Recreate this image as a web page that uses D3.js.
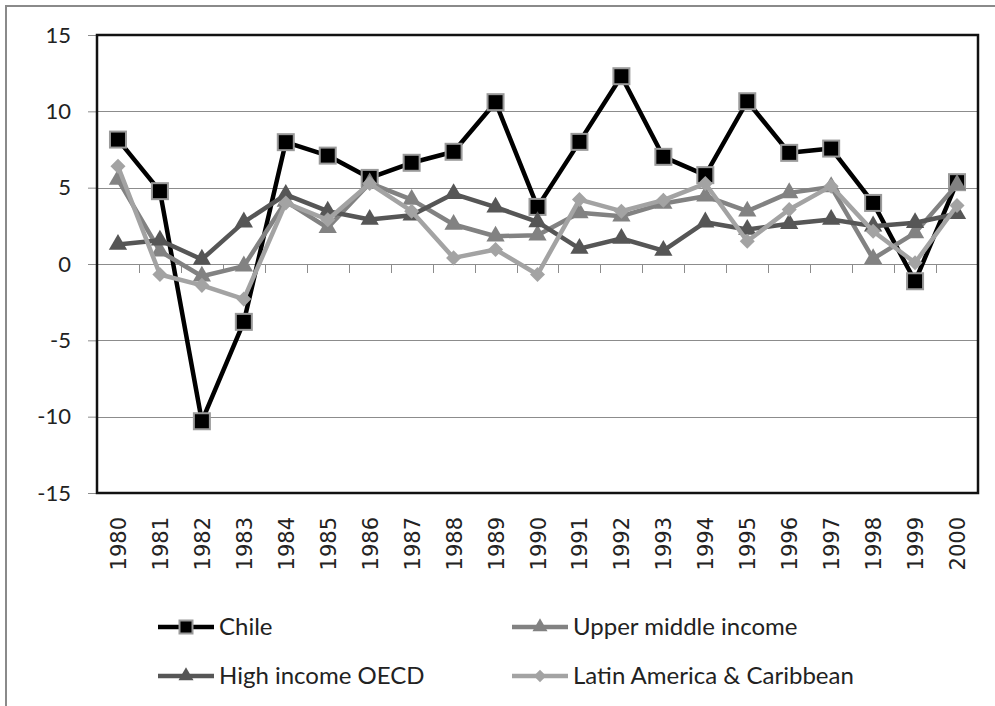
<!DOCTYPE html>
<html>
<head>
<meta charset="utf-8">
<script src="https://cdn.jsdelivr.net/npm/d3@7/dist/d3.min.js"></script>
<style>
  body { margin: 0; background: #fff; }
  svg { display: block; }
</style>
</head>
<body>
<div class="container"></div>
<script>
const w = 995;
const h = 706;

// chart values
const years = ['1980', '1981', '1982', '1983', '1984', '1985', '1986', '1987', '1988', '1989', '1990',
  '1991', '1992', '1993', '1994', '1995', '1996', '1997', '1998', '1999', '2000'];
const chile = [8.15, 4.77, -10.3, -3.79, 7.98, 7.1, 5.64, 6.63, 7.35, 10.6, 3.74, 8.0, 12.3, 7.02, 5.82, 10.66, 7.28, 7.56, 4.0, -1.13, 5.36];
const upperMiddle = [5.53, 0.84, -0.8, -0.14, 4.1, 2.37, 5.3, 4.22, 2.59, 1.82, 1.89, 3.35, 3.13, 3.96, 4.44, 3.46, 4.66, 5.05, 0.34, 2.04, 5.2];
const highOECD = [1.28, 1.56, 0.3, 2.74, 4.55, 3.46, 2.91, 3.2, 4.6, 3.72, 2.76, 1.01, 1.67, 0.88, 2.74, 2.26, 2.63, 2.91, 2.48, 2.7, 3.29];
const latAm = [6.4, -0.69, -1.4, -2.3, 4.0, 2.9, 5.27, 3.46, 0.4, 0.95, -0.69, 4.22, 3.46, 4.18, 5.27, 1.49, 3.57, 5.1, 2.15, 0.08, 3.83];
const yTicks = [-15, -10, -5, 0, 5, 10, 15];
const seriesNames = ['Chile', 'Upper middle income', 'High income OECD', 'Latin America & Caribbean'];

const series = [
  { name: seriesNames[0], values: chile, color: '#000', marker: 'square' },
  { name: seriesNames[1], values: upperMiddle, color: '#828282', marker: 'triangle' },
  { name: seriesNames[2], values: highOECD, color: '#565656', marker: 'triangle' },
  { name: seriesNames[3], values: latAm, color: '#a3a3a3', marker: 'diamond' }
];

const pLeft = 97, pRight = 978, pTop = 35, pBottom = 493;

const xScale = d3.scaleBand()
  .domain(years)
  .range([pLeft, pRight])
  .padding(0);
const xc = (d) => xScale(d) + xScale.bandwidth() / 2;

const yScale = d3.scaleLinear()
  .domain([-15, 15])
  .range([pBottom, pTop]);

const svg = d3.select('.container')
  .append('svg')
  .attr('width', w)
  .attr('height', h);

// outer chart border
svg.append('rect')
  .attr('x', 6)
  .attr('y', 6)
  .attr('width', w + 10)
  .attr('height', h + 10)
  .attr('fill', '#fff')
  .attr('stroke', '#8a8a8a')
  .attr('stroke-width', 2);

// gridlines
svg.append('g')
  .selectAll('line')
  .data(yTicks.filter((d) => d !== 15 && d !== -15))
  .enter()
  .append('line')
  .attr('x1', pLeft)
  .attr('x2', pRight)
  .attr('y1', (d) => Math.round(yScale(d)) + 0.5)
  .attr('y2', (d) => Math.round(yScale(d)) + 0.5)
  .attr('stroke', '#8c8c8c')
  .attr('stroke-width', 1);

// y axis (plain hyphen for negatives, like the original)
const yAxis = d3.axisLeft(yScale)
  .tickValues(yTicks)
  .tickSize(9)
  .tickPadding(17)
  .tickFormat((d) => String(d));
const yg = svg.append('g')
  .attr('transform', 'translate(' + pLeft + ',0)')
  .call(yAxis);
yg.select('.domain').remove();
yg.selectAll('.tick line').attr('stroke', '#8c8c8c');
yg.selectAll('.tick text')
  .attr('font-family', 'Lato, sans-serif')
  .attr('font-size', 22)
  .attr('fill', '#222');

// category ticks on the zero line
const xAxis = d3.axisBottom(xScale)
  .tickSize(0)
  .tickFormat('');
const xg = svg.append('g')
  .attr('transform', 'translate(0,' + yScale(0) + ')')
  .call(xAxis);
xg.select('.domain').remove();
xg.selectAll('.boundary')
  .data(years.slice(1))
  .enter()
  .append('line')
  .attr('class', 'boundary')
  .attr('x1', (d) => Math.round(xScale(d)) + 0.5)
  .attr('x2', (d) => Math.round(xScale(d)) + 0.5)
  .attr('y1', 0)
  .attr('y2', 9)
  .attr('stroke', '#8c8c8c');

// category labels
svg.append('g')
  .selectAll('text')
  .data(years)
  .enter()
  .append('text')
  .attr('transform', (d) => 'translate(' + (xc(d) + 8) + ',' + 517 + ') rotate(-90)')
  .attr('text-anchor', 'end')
  .attr('font-family', 'DejaVu Sans, sans-serif')
  .attr('font-size', 21)
  .attr('fill', '#222')
  .text((d) => d);

// plot frame
svg.append('rect')
  .attr('x', pLeft)
  .attr('y', pTop)
  .attr('width', pRight - pLeft)
  .attr('height', pBottom - pTop)
  .attr('fill', 'none')
  .attr('stroke', '#111')
  .attr('stroke-width', 2.5);

// marker drawing
function drawMarker(g, type, color, size) {
  if (type === 'square') {
    g.append('rect')
      .attr('x', -size / 2)
      .attr('y', -size / 2)
      .attr('width', size)
      .attr('height', size)
      .attr('fill', '#000')
      .attr('stroke', '#9a9a9a')
      .attr('stroke-width', 2);
  } else if (type === 'triangle') {
    g.append('path')
      .attr('d', d3.symbol().type(d3.symbolTriangle).size(size * size * 0.5)())
      .attr('fill', color);
  } else {
    g.append('path')
      .attr('d', d3.symbol().type(d3.symbolDiamond2).size(size * size * 0.5)())
      .attr('fill', color);
  }
}

const line = d3.line()
  .x((d, i) => xc(years[i]))
  .y((d) => yScale(d));

series.forEach((s) => {
  svg.append('path')
    .datum(s.values)
    .attr('d', line)
    .attr('fill', 'none')
    .attr('stroke', s.color)
    .attr('stroke-width', 4.5)
    .attr('stroke-linejoin', 'round');
  svg.append('g')
    .selectAll('g')
    .data(s.values)
    .enter()
    .append('g')
    .attr('transform', (d, i) => 'translate(' + xc(years[i]) + ',' + yScale(d) + ')')
    .each(function () {
      drawMarker(d3.select(this), s.marker, s.color, s.marker === 'square' ? 16 : 17);
    });
});

// legend
const legendPos = [[158, 627], [512, 627], [158, 676], [512, 676]];
const legend = svg.selectAll('.legend')
  .data(series)
  .enter()
  .append('g')
  .attr('class', 'legend')
  .attr('transform', (d, i) => 'translate(' + legendPos[i][0] + ',' + legendPos[i][1] + ')');
legend.append('line')
  .attr('x1', 0)
  .attr('x2', 56)
  .attr('stroke', (d) => d.color)
  .attr('stroke-width', 4.5);
legend.append('g')
  .attr('transform', 'translate(28,0)')
  .each(function (d) {
    drawMarker(d3.select(this), d.marker, d.color, d.marker === 'square' ? 13 : 14);
  });
legend.append('text')
  .attr('x', 61)
  .attr('y', 8)
  .attr('font-family', 'Lato, sans-serif')
  .attr('font-size', 24)
  .attr('fill', '#222')
  .text((d) => d.name);
</script>
</body>
</html>
